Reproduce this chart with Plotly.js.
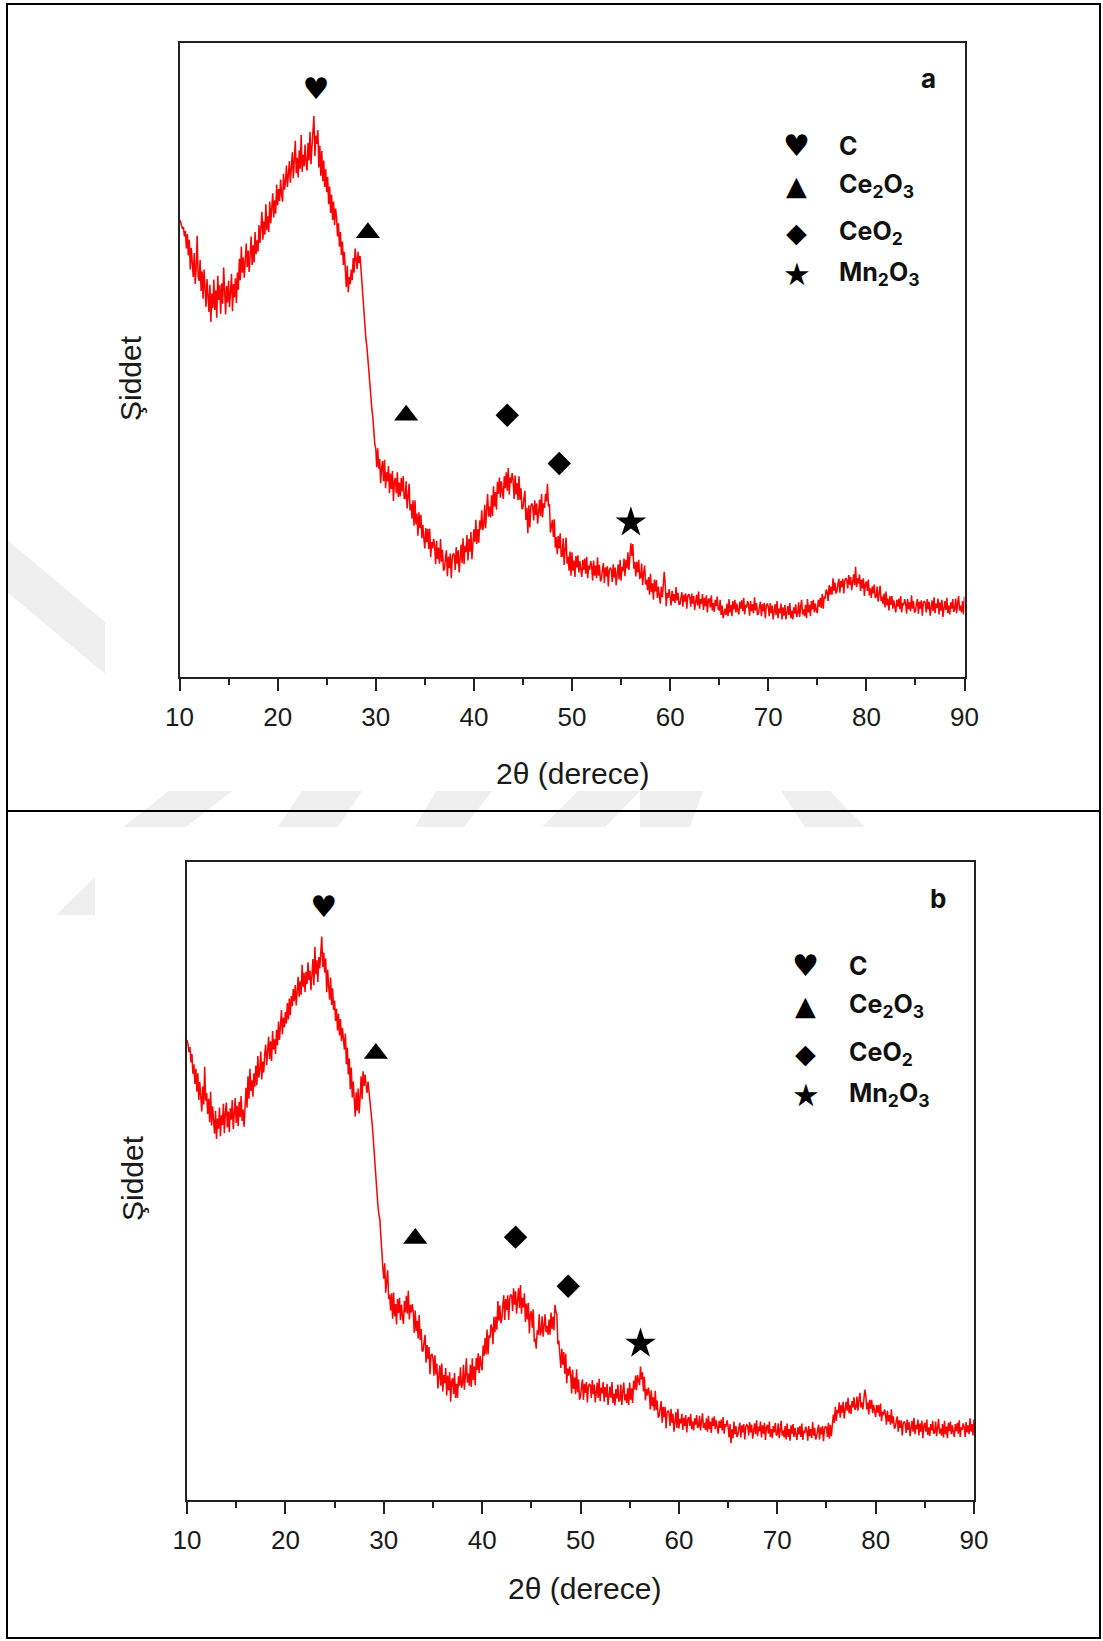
<!DOCTYPE html>
<html>
<head>
<meta charset="utf-8">
<script src="https://cdn.plot.ly/plotly-3.0.1.min.js"></script>
<style>
  html, body { margin: 0; padding: 0; background: #ffffff; }
  #chart { width: 1103px; height: 1641px; }
</style>
</head>
<body>
<div id="chart"></div>
<script>
// XRD scan: 2θ from 10° to 90°, step 0.1° (one row = one degree)
const scanStart = 10;
const scanStep = 0.1;

// Sample a – intensity (arbitrary units)
const intensityA = [
  72.0, 71.8, 71.2, 70.6, 70.9, 69.4, 70.3, 67.5, 69.8, 66.4,
  68.9, 64.2, 67.6, 65.3, 63.0, 66.8, 61.9, 64.5, 69.5, 63.1,
  62.4, 65.7, 60.8, 63.9, 59.6, 64.2, 61.1, 58.3, 62.7, 60.2,
  57.5, 61.8, 55.9, 60.4, 58.1, 62.6, 57.8, 60.9, 56.6, 63.2,
  59.4, 61.7, 57.2, 62.0, 58.8, 64.5, 60.3, 57.1, 61.6, 59.0,
  62.4, 58.3, 60.7, 63.5, 57.6, 61.9, 59.8, 62.8, 58.9, 63.7,
  61.0, 65.9, 62.5, 67.8, 63.7, 66.1, 62.9, 65.4, 68.3, 64.6,
  67.2, 63.8, 66.9, 69.4, 64.9, 68.0, 65.3, 70.1, 66.6, 68.8,
  67.0, 71.2, 68.4, 70.6, 73.3, 68.9, 71.8, 69.7, 74.5, 70.4,
  72.6, 70.1, 74.9, 71.5, 73.8, 76.2, 72.4, 75.1, 73.0, 77.6,
  74.3, 76.9, 75.0, 78.4, 76.1, 74.9, 79.3, 76.8, 78.0, 80.6,
  77.2, 79.5, 81.3, 77.9, 80.0, 82.7, 78.6, 80.9, 84.5, 79.4,
  81.8, 78.7, 83.0, 80.1, 85.4, 79.6, 82.3, 80.5, 83.9, 81.0,
  79.8, 84.2, 81.4, 85.9, 80.8, 83.6, 86.8, 88.4, 82.1, 85.3,
  84.0, 86.2, 80.3, 83.7, 79.0, 82.9, 78.1, 81.4, 77.2, 80.0,
  76.4, 78.8, 74.5, 77.3, 73.1, 76.0, 72.0, 74.9, 71.2, 73.8,
  72.6, 69.4, 71.5, 67.8, 70.1, 66.5, 68.6, 64.9, 67.0, 63.3,
  61.4, 64.8, 60.6, 63.0, 61.9, 64.2, 62.5, 66.0, 63.7, 67.5,
  66.1, 64.3, 67.0, 65.2, 66.3, 64.0, 62.1, 59.4, 58.0, 55.5,
  53.2, 52.0, 49.8, 48.5, 46.0, 44.6, 42.3, 40.9, 38.4, 36.7,
  36.0, 33.0, 36.0, 32.8, 34.3, 30.5, 32.9, 34.0, 30.8, 34.2,
  29.7, 32.2, 30.8, 33.2, 28.9, 32.0, 29.6, 32.4, 27.7, 30.8,
  31.3, 28.9, 32.2, 28.3, 30.6, 28.4, 31.3, 29.2, 31.6, 28.0,
  28.1, 30.8, 26.5, 28.8, 30.4, 26.2, 27.2, 24.9, 27.8, 23.8,
  27.8, 24.0, 25.7, 22.2, 25.9, 23.4, 25.5, 21.8, 23.9, 21.8,
  20.2, 23.4, 21.2, 23.3, 20.1, 23.3, 18.8, 21.2, 20.2, 21.7,
  20.6, 17.7, 21.4, 18.5, 20.3, 17.8, 21.7, 18.1, 20.0, 16.7,
  17.0, 18.6, 19.9, 15.8, 18.9, 17.1, 19.4, 15.5, 18.8, 19.4,
  19.2, 16.8, 20.4, 17.8, 19.9, 16.4, 19.3, 20.8, 17.9, 21.8,
  17.7, 20.6, 19.6, 22.3, 18.3, 21.7, 19.7, 22.8, 18.5, 22.1,
  23.2, 21.2, 24.7, 20.9, 23.2, 21.1, 24.6, 23.2, 26.2, 23.1,
  23.8, 27.1, 23.4, 26.4, 28.8, 25.2, 26.8, 25.1, 28.6, 25.3,
  30.0, 26.8, 29.1, 26.3, 30.7, 28.8, 31.4, 28.2, 30.8, 29.2,
  28.0, 31.6, 29.7, 32.2, 29.3, 32.9, 28.7, 31.4, 30.5, 32.1,
  31.0, 28.0, 31.7, 28.7, 30.5, 27.8, 31.6, 27.9, 29.7, 26.4,
  26.6, 28.1, 29.3, 24.7, 26.6, 22.6, 27.0, 23.5, 26.8, 27.3,
  26.8, 24.6, 27.8, 25.5, 27.3, 24.1, 26.6, 27.9, 25.3, 28.8,
  25.1, 27.3, 26.6, 28.8, 27.6, 30.4, 26.8, 27.2, 22.7, 24.3,
  24.7, 22.0, 24.8, 20.3, 22.0, 19.3, 22.2, 20.2, 22.6, 18.9,
  19.0, 21.8, 17.6, 20.1, 21.9, 17.8, 18.9, 16.7, 19.7, 15.9,
  19.6, 16.7, 18.3, 15.7, 19.0, 17.2, 19.1, 16.4, 18.2, 16.8,
  15.7, 18.4, 16.8, 18.6, 16.2, 18.9, 15.5, 17.5, 16.8, 18.2,
  17.5, 15.1, 18.3, 15.9, 17.5, 15.5, 18.8, 15.9, 17.6, 15.0,
  15.4, 16.8, 17.9, 14.7, 17.2, 15.8, 17.4, 14.2, 16.8, 17.1,
  16.9, 14.9, 17.7, 15.6, 17.2, 14.4, 16.5, 17.7, 15.3, 18.4,
  15.1, 17.3, 16.6, 18.6, 15.8, 18.4, 17.1, 19.6, 16.8, 19.7,
  21.0, 19.0, 20.9, 17.0, 18.1, 15.8, 18.1, 16.4, 18.4, 15.5,
  15.6, 17.8, 14.4, 16.3, 17.5, 14.5, 15.3, 13.6, 15.7, 12.9,
  16.2, 13.3, 14.7, 12.1, 15.3, 13.4, 15.2, 12.4, 14.2, 12.7,
  11.5, 14.2, 12.5, 14.3, 16.5, 14.6, 11.1, 13.2, 12.4, 13.8,
  12.8, 11.2, 13.5, 11.9, 13.0, 11.6, 14.1, 12.0, 13.2, 11.4,
  11.4, 12.5, 13.3, 11.0, 12.9, 11.8, 13.1, 10.7, 12.7, 13.0,
  12.5, 11.0, 13.1, 11.5, 12.7, 10.5, 12.2, 12.9, 11.2, 13.4,
  10.7, 12.2, 11.5, 13.0, 10.5, 12.4, 11.1, 12.8, 10.1, 12.1,
  12.3, 10.9, 12.8, 10.4, 11.6, 10.2, 12.1, 11.1, 12.6, 10.6,
  10.5, 12.1, 9.7, 11.2, 9.2, 9.9, 10.7, 9.7, 11.5, 9.5,
  12.2, 10.1, 11.3, 9.5, 11.9, 10.6, 12.1, 10.1, 11.5, 10.4,
  9.8, 11.8, 10.7, 12.0, 10.3, 12.4, 9.8, 11.3, 10.9, 11.9,
  11.2, 9.6, 11.9, 10.3, 11.4, 10.0, 12.5, 10.4, 11.6, 9.8,
  9.9, 11.0, 11.8, 9.5, 11.4, 10.3, 11.6, 9.2, 11.2, 11.5,
  11.0, 9.5, 11.6, 10.0, 11.2, 9.0, 10.7, 11.4, 9.7, 11.9,
  9.2, 10.7, 10.0, 11.5, 9.0, 10.9, 9.6, 11.3, 9.0, 10.6,
  11.1, 9.7, 11.6, 9.2, 10.4, 9.0, 10.9, 9.9, 11.4, 9.4,
  10.0, 11.7, 9.4, 11.0, 12.1, 9.8, 10.6, 9.5, 11.3, 9.2,
  12.2, 10.1, 11.3, 9.5, 11.9, 10.6, 12.1, 10.1, 11.5, 10.4,
  10.0, 12.1, 11.0, 12.4, 10.8, 13.0, 10.7, 12.5, 12.4, 13.7,
  13.3, 11.9, 14.4, 12.9, 14.2, 12.9, 15.5, 13.5, 14.8, 13.1,
  13.4, 14.6, 15.4, 13.2, 15.1, 14.1, 15.4, 13.1, 15.1, 15.5,
  15.3, 13.9, 16.0, 14.5, 15.7, 13.6, 15.3, 16.1, 14.4, 17.3,
  14.1, 15.5, 14.7, 16.1, 13.5, 15.3, 13.9, 15.5, 12.7, 14.6,
  15.0, 13.5, 15.3, 12.8, 13.9, 12.4, 14.2, 13.1, 14.5, 12.4,
  12.6, 14.2, 11.8, 13.3, 14.3, 11.9, 12.6, 11.4, 13.1, 10.9,
  13.4, 11.2, 12.3, 10.4, 12.7, 11.3, 12.7, 10.7, 12.0, 10.9,
  10.1, 12.1, 11.0, 12.3, 10.6, 12.7, 10.1, 11.6, 11.2, 12.2,
  11.5, 9.9, 12.2, 10.6, 11.7, 10.3, 12.8, 10.7, 11.9, 10.1,
  10.3, 11.4, 12.2, 9.9, 11.8, 10.7, 12.0, 9.6, 11.6, 11.9,
  11.6, 10.1, 12.2, 10.6, 11.8, 9.6, 11.3, 12.0, 10.3, 12.5,
  10.0, 11.5, 10.8, 12.3, 9.8, 11.7, 10.4, 12.1, 9.4, 11.4,
  11.9, 10.5, 12.4, 10.0, 11.2, 9.8, 11.7, 10.7, 12.2, 10.2,
  10.6, 12.3, 10.0, 11.6, 12.7, 10.4, 11.2, 10.1, 11.9, 9.8,
  12.6
];

// Sample b – intensity (arbitrary units)
const intensityB = [
  72.1, 71.5, 70.2, 71.0, 68.6, 69.9, 66.8, 68.3, 65.2, 67.6,
  64.0, 66.9, 62.7, 65.5, 63.3, 60.9, 64.8, 62.0, 67.9, 62.6,
  63.8, 60.5, 62.9, 59.2, 64.0, 58.7, 61.7, 60.1, 57.4, 61.0,
  56.6, 59.8, 58.2, 61.5, 57.0, 60.3, 58.8, 62.1, 57.5, 60.7,
  62.3, 58.4, 60.9, 57.7, 61.4, 59.6, 62.7, 58.1, 60.5, 63.0,
  59.1, 61.8, 58.6, 62.4, 60.0, 63.3, 59.4, 61.2, 58.5, 62.0,
  64.6, 61.5, 66.4, 62.9, 67.6, 64.1, 65.8, 63.2, 66.9, 64.8,
  68.1, 65.0, 69.6, 66.2, 67.5, 70.3, 65.9, 68.7, 67.0, 69.9,
  71.4, 68.2, 70.0, 72.6, 69.1, 71.9, 68.8, 73.5, 70.6, 72.2,
  69.9, 73.7, 71.3, 75.0, 72.1, 74.4, 76.8, 73.0, 75.6, 74.1,
  76.5, 74.7, 77.9, 75.3, 78.6, 76.0, 79.0, 77.4, 80.1, 78.2,
  80.7, 77.5, 79.8, 82.0, 78.9, 81.3, 79.2, 83.9, 80.4, 82.6,
  79.6, 82.8, 80.9, 84.3, 81.5, 83.0, 79.9, 82.2, 84.8, 80.7,
  86.7, 82.4, 84.6, 81.2, 85.1, 83.3, 86.0, 88.3, 83.5, 85.8,
  82.7, 84.9, 79.6, 83.1, 80.5, 78.4, 81.9, 77.6, 80.2, 76.8,
  78.3, 75.1, 77.0, 73.6, 76.2, 72.8, 75.4, 71.9, 74.0, 72.5,
  70.6, 73.1, 68.3, 70.9, 66.7, 69.2, 64.4, 67.8, 63.1, 65.6,
  62.4, 60.1, 63.9, 61.0, 64.5, 60.6, 63.2, 66.4, 62.8, 67.2,
  64.9, 66.7, 65.1, 63.8, 65.6, 64.2, 62.9, 60.7, 59.3, 57.4,
  55.0, 51.6, 49.3, 47.8, 46.2, 44.8, 44.0, 41.6, 38.2, 36.6,
  34.7, 37.1, 32.5, 34.6, 36.0, 31.5, 32.2, 29.7, 32.4, 28.4,
  32.5, 28.8, 30.7, 27.5, 31.5, 29.3, 31.7, 28.2, 30.6, 28.8,
  27.6, 31.2, 29.4, 32.0, 29.2, 32.8, 28.3, 30.6, 29.4, 30.7,
  29.4, 26.2, 29.7, 26.5, 28.1, 25.3, 29.0, 25.1, 26.8, 23.3,
  23.4, 24.8, 25.9, 21.5, 24.3, 22.1, 24.0, 19.7, 22.7, 22.9,
  22.3, 19.5, 22.7, 19.7, 21.4, 17.5, 19.9, 21.1, 17.9, 21.4,
  17.0, 19.6, 18.3, 20.7, 16.4, 19.5, 17.2, 20.0, 15.4, 18.6,
  19.1, 16.6, 19.9, 16.0, 18.2, 16.0, 19.4, 17.9, 20.8, 17.6,
  18.1, 21.2, 17.3, 20.1, 22.2, 18.4, 19.8, 17.9, 21.2, 17.7,
  22.2, 18.8, 20.9, 18.0, 22.3, 20.4, 23.0, 19.9, 22.6, 21.2,
  20.3, 24.2, 22.6, 25.4, 22.8, 26.7, 22.8, 25.8, 25.4, 27.5,
  26.9, 24.4, 28.7, 26.3, 28.7, 26.7, 31.2, 28.1, 30.5, 27.7,
  28.4, 30.4, 32.1, 28.2, 31.5, 29.8, 32.1, 28.2, 31.6, 32.2,
  32.0, 29.6, 33.2, 30.6, 32.7, 29.2, 31.9, 33.2, 30.1, 33.7,
  29.2, 31.7, 30.2, 32.4, 27.9, 30.8, 28.3, 30.9, 26.1, 29.1,
  29.6, 27.0, 29.9, 24.8, 25.3, 23.7, 26.6, 25.9, 29.1, 25.8,
  26.4, 28.8, 25.6, 27.7, 29.1, 26.3, 27.3, 25.9, 28.3, 25.9,
  29.4, 26.8, 28.7, 26.6, 30.6, 29.5, 29.1, 24.4, 25.0, 22.8,
  20.7, 23.7, 21.2, 23.2, 19.8, 22.9, 18.3, 20.6, 19.5, 20.9,
  19.7, 16.7, 20.4, 17.4, 19.2, 16.6, 20.5, 16.9, 18.9, 15.7,
  16.3, 17.7, 18.9, 15.7, 18.2, 16.8, 18.5, 15.3, 17.8, 18.2,
  18.0, 16.0, 18.8, 16.6, 18.1, 15.3, 17.4, 18.4, 16.0, 19.0,
  15.5, 17.6, 16.7, 18.5, 15.4, 17.7, 16.1, 18.2, 14.9, 17.2,
  17.8, 16.0, 18.5, 15.2, 16.7, 14.8, 17.4, 15.9, 18.1, 15.4,
  15.7, 18.1, 14.9, 17.0, 18.4, 15.6, 16.6, 15.2, 17.5, 14.9,
  18.4, 15.7, 17.5, 15.2, 18.7, 17.3, 19.5, 17.2, 19.6, 18.7,
  18.0, 20.9, 18.9, 20.0, 17.0, 19.3, 15.6, 17.4, 16.4, 17.6,
  16.7, 14.2, 17.2, 14.7, 16.1, 14.0, 17.1, 14.1, 15.6, 12.9,
  13.2, 14.4, 15.5, 12.1, 14.6, 13.0, 14.6, 11.2, 13.7, 14.0,
  13.7, 11.6, 14.3, 12.1, 13.5, 10.7, 12.7, 13.8, 11.3, 14.3,
  11.2, 12.7, 12.0, 13.5, 11.0, 12.9, 11.6, 13.3, 10.6, 12.6,
  13.0, 11.6, 13.5, 11.1, 12.3, 10.9, 12.8, 11.8, 13.3, 11.3,
  11.5, 13.2, 10.9, 12.5, 13.6, 11.3, 12.1, 11.0, 12.8, 10.7,
  13.2, 11.1, 12.3, 10.5, 12.9, 11.6, 13.1, 11.1, 12.5, 11.4,
  10.4, 12.4, 11.3, 12.6, 10.9, 13.0, 10.4, 11.9, 11.5, 12.5,
  11.6, 9.8, 11.9, 8.9, 11.1, 9.7, 12.3, 10.3, 11.6, 9.9,
  10.2, 11.3, 12.1, 9.8, 11.7, 10.6, 11.9, 9.5, 11.5, 11.8,
  11.6, 10.1, 12.2, 10.6, 11.8, 9.6, 11.3, 12.0, 10.3, 12.5,
  10.0, 11.5, 10.8, 12.3, 9.8, 11.7, 10.4, 12.1, 9.4, 11.4,
  11.8, 10.4, 12.3, 9.9, 11.1, 9.7, 11.6, 10.6, 12.1, 10.1,
  10.3, 12.0, 9.7, 11.3, 12.4, 10.1, 10.9, 9.8, 11.6, 9.5,
  12.0, 9.9, 11.1, 9.3, 11.7, 10.4, 11.9, 9.9, 11.3, 10.2,
  9.4, 11.4, 10.3, 11.6, 9.9, 12.0, 9.4, 10.9, 10.5, 11.5,
  10.9, 9.3, 11.6, 10.0, 11.1, 9.7, 12.2, 10.1, 11.3, 9.5,
  9.9, 11.0, 11.8, 9.5, 11.4, 10.3, 11.6, 9.2, 11.2, 11.5,
  11.4, 9.9, 12.1, 9.6, 11.8, 10.0, 12.3, 13.4, 12.1, 14.6,
  12.4, 14.1, 13.6, 15.3, 12.9, 14.9, 13.7, 15.4, 12.8, 14.8,
  15.4, 14.0, 16.0, 13.6, 14.9, 13.5, 15.5, 14.5, 16.1, 14.1,
  14.5, 16.2, 14.0, 15.6, 16.8, 14.5, 15.3, 14.2, 16.0, 17.3,
  16.4, 14.2, 15.3, 13.4, 15.7, 14.3, 15.7, 13.6, 14.9, 13.8,
  13.0, 14.9, 13.7, 14.9, 13.1, 15.1, 12.4, 13.8, 13.3, 14.2,
  13.5, 11.8, 14.0, 12.3, 13.3, 11.8, 14.2, 12.0, 13.1, 11.2,
  11.4, 12.4, 13.1, 10.7, 12.5, 11.3, 12.5, 10.1, 12.0, 12.3,
  12.0, 10.5, 12.6, 11.0, 12.2, 10.0, 11.7, 12.4, 10.7, 12.9,
  10.3, 11.8, 11.1, 12.6, 10.1, 12.0, 10.7, 12.4, 9.7, 11.7,
  12.1, 10.7, 12.6, 10.2, 11.4, 10.0, 11.9, 10.9, 12.4, 10.4,
  10.6, 12.3, 10.0, 11.6, 12.7, 10.4, 11.2, 10.1, 11.9, 9.8,
  12.4, 10.3, 11.5, 9.7, 12.1, 10.8, 12.3, 10.3, 11.7, 10.6,
  9.9, 11.9, 10.8, 12.1, 10.4, 12.5, 9.9, 11.4, 11.0, 12.0,
  11.5, 9.9, 12.2, 10.6, 11.7, 10.3, 12.8, 10.7, 11.9, 10.1,
  12.6
];

// Phase reflections marked above the pattern (2θ, marker height)
const carbonA = { x: [23.9], y: [92.3] };
const ce2o3A  = { x: [29.2, 33.1], y: [70.0, 41.2] };
const ceo2A   = { x: [43.4, 48.7], y: [41.2, 33.6] };
const mn2o3A  = { x: [56.0], y: [24.3] };

const carbonB = { x: [23.9], y: [92.5] };
const ce2o3B  = { x: [29.2, 33.2], y: [70.0, 41.0] };
const ceo2B   = { x: [43.4, 48.75], y: [41.2, 33.5] };
const mn2o3B  = { x: [56.1], y: [24.5] };

const phaseNames   = ['C', 'Ce<sub>2</sub>O<sub>3</sub>', 'CeO<sub>2</sub>', 'Mn<sub>2</sub>O<sub>3</sub>'];
const phaseGlyphs  = ['\u2665', '\u25B2', '\u25C6', '\u2605'];
const panelLetters = ['a', 'b'];
const xTitle = '2\u03B8 (derece)';
const yTitle = '\u015Eiddet';

// ---- page geometry (pixels) ----
const W = 1103, H = 1641;
const pxX = v => v / W;
const pxY = v => 1 - v / H;

const twoTheta = intensityA.map((_, i) => +(scanStart + i * scanStep).toFixed(2));

const axisFont = { family: 'Liberation Sans, Arial, sans-serif', size: 26, color: '#1a1a1a' };
const labelFont = { family: 'Liberation Sans, Arial, sans-serif', size: 30, color: '#1a1a1a' };
const legendFont = { family: 'Inter, "Open Sans", sans-serif', size: 25, color: '#111', weight: 700 };

function xAxisCfg(domain, anchor) {
  return {
    domain, anchor, range: [10, 90], tick0: 10, dtick: 10,
    ticks: 'outside', ticklen: 12, tickwidth: 2, tickcolor: '#222',
    minor: { dtick: 5, ticks: 'outside', ticklen: 6, tickwidth: 2, tickcolor: '#222', showgrid: false },
    showline: true, linewidth: 2, linecolor: '#222', mirror: true,
    showgrid: false, zeroline: false, tickfont: axisFont, ticklabelstandoff: 4,
    fixedrange: true
  };
}
function yAxisCfg(domain, anchor) {
  return {
    domain, anchor, range: [0, 100], showticklabels: false, ticks: '',
    showline: true, linewidth: 2, linecolor: '#222', mirror: true,
    showgrid: false, zeroline: false, fixedrange: true
  };
}

function patternTraces(yVals, carbon, ce2o3, ceo2, mn2o3, xa, ya) {
  return [
    { type: 'scatter', mode: 'lines', x: twoTheta, y: yVals, xaxis: xa, yaxis: ya,
      line: { color: '#ff0000', width: 1.5 }, hoverinfo: 'skip' },
    { type: 'scatter', mode: 'text', x: carbon.x, y: carbon.y, xaxis: xa, yaxis: ya,
      text: carbon.x.map(() => phaseGlyphs[0]), textposition: 'middle center',
      textfont: { family: 'DejaVu Sans', size: 30, color: '#000' }, hoverinfo: 'skip' },
    { type: 'scatter', mode: 'markers', x: ce2o3.x, y: ce2o3.y, xaxis: xa, yaxis: ya,
      marker: { symbol: 'triangle-up', size: 21, color: '#000' }, hoverinfo: 'skip' },
    { type: 'scatter', mode: 'markers', x: ceo2.x, y: ceo2.y, xaxis: xa, yaxis: ya,
      marker: { symbol: 'diamond', size: 18, color: '#000' }, hoverinfo: 'skip' },
    { type: 'scatter', mode: 'markers', x: mn2o3.x, y: mn2o3.y, xaxis: xa, yaxis: ya,
      marker: { symbol: 'star', size: 23, color: '#000', line: { width: 0 } }, hoverinfo: 'skip' }
  ];
}

const data = [
  ...patternTraces(intensityA, carbonA, ce2o3A, ceo2A, mn2o3A, 'x', 'y'),
  ...patternTraces(intensityB, carbonB, ce2o3B, ceo2B, mn2o3B, 'x2', 'y2')
];

// in-plot legend + panel letter, placed relative to each plot area
const legendRows = [0.837, 0.775, 0.700, 0.635];
const glyphSizes = [30, 27, 27, 31];
function panelAnnotations(letter, xr, yr) {
  const out = [{
    xref: xr + ' domain', yref: yr + ' domain', x: 0.954, y: 0.943,
    text: '<b>' + letter + '</b>', showarrow: false, xanchor: 'center', yanchor: 'middle',
    font: { family: 'Inter, sans-serif', size: 26, color: '#111' }
  }];
  phaseNames.forEach((name, i) => {
    out.push({
      xref: xr + ' domain', yref: yr + ' domain', x: 0.786, y: legendRows[i],
      text: phaseGlyphs[i], showarrow: false, xanchor: 'center', yanchor: 'middle',
      font: { family: 'DejaVu Sans', size: glyphSizes[i], color: '#000' }
    });
    out.push({
      xref: xr + ' domain', yref: yr + ' domain', x: 0.838, y: legendRows[i],
      text: name, showarrow: false, xanchor: 'left', yanchor: 'middle',
      font: legendFont
    });
  });
  return out;
}

const annotations = [
  ...panelAnnotations(panelLetters[0], 'x', 'y'),
  ...panelAnnotations(panelLetters[1], 'x2', 'y2'),
  { xref: 'paper', yref: 'paper', x: pxX(572), y: pxY(774), text: xTitle, showarrow: false,
    xanchor: 'center', yanchor: 'middle', font: labelFont },
  { xref: 'paper', yref: 'paper', x: pxX(584), y: pxY(1588), text: xTitle, showarrow: false,
    xanchor: 'center', yanchor: 'middle', font: labelFont },
  { xref: 'paper', yref: 'paper', x: pxX(130), y: pxY(378), text: yTitle, showarrow: false,
    textangle: -90, xanchor: 'center', yanchor: 'middle', font: labelFont },
  { xref: 'paper', yref: 'paper', x: pxX(132), y: pxY(1178), text: yTitle, showarrow: false,
    textangle: -90, xanchor: 'center', yanchor: 'middle', font: labelFont }
];

// faint background watermark pieces and the page frame
function polyPath(pts) {
  return 'M' + pts.map(p => pxX(p[0]).toFixed(5) + ',' + pxY(p[1]).toFixed(5)).join(' L') + ' Z';
}
const wmColor = '#efefef';
const watermark = [
  [[7, 540], [105, 622], [105, 674], [7, 592]],
  [[232, 791], [169, 791], [123, 827], [186, 827]],
  [[362, 791], [302, 791], [278, 827], [338, 827]],
  [[492, 791], [436, 791], [415, 827], [464, 827]],
  [[640, 791], [578, 791], [542, 827], [605, 827]],
  [[640, 791], [703, 791], [690, 827], [640, 827]],
  [[781, 791], [830, 791], [865, 827], [805, 827]],
  [[95, 877], [95, 915], [56, 915]]
];
const shapes = watermark.map(pts => ({
  type: 'path', xref: 'paper', yref: 'paper', path: polyPath(pts),
  fillcolor: wmColor, line: { width: 0 }, layer: 'below'
}));
shapes.push({ type: 'rect', xref: 'paper', yref: 'paper',
  x0: pxX(7), x1: pxX(1100), y0: pxY(1638), y1: pxY(4),
  line: { color: '#000', width: 2 }, fillcolor: 'rgba(0,0,0,0)', layer: 'above' });
shapes.push({ type: 'line', xref: 'paper', yref: 'paper',
  x0: pxX(7), x1: pxX(1100), y0: pxY(811), y1: pxY(811),
  line: { color: '#000', width: 2 }, layer: 'above' });

const layout = {
  width: W, height: H,
  margin: { l: 0, r: 0, t: 0, b: 0 },
  paper_bgcolor: '#ffffff', plot_bgcolor: '#ffffff',
  showlegend: false,
  xaxis: xAxisCfg([pxX(179.5), pxX(964.5)], 'y'),
  yaxis: yAxisCfg([pxY(676.5), pxY(42.5)], 'x'),
  xaxis2: xAxisCfg([pxX(187), pxX(974)], 'y2'),
  yaxis2: yAxisCfg([pxY(1500), pxY(862)], 'x2'),
  annotations, shapes
};

Plotly.newPlot('chart', data, layout, { staticPlot: true, displayModeBar: false });
</script>
</body>
</html>
